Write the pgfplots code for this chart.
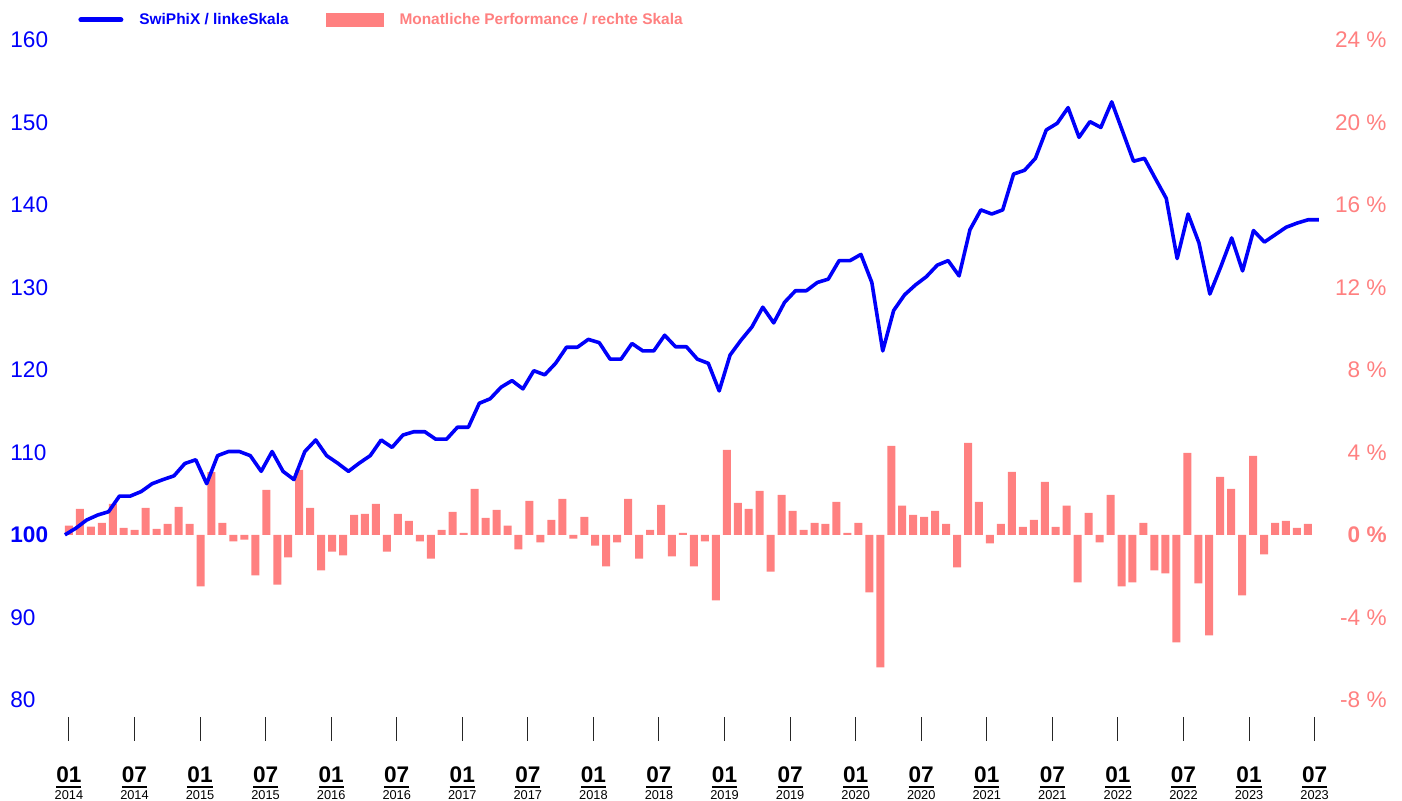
\documentclass[border=0pt]{standalone}
\usepackage{pgfplots}
\usepackage{pgfplotstable}
\pgfplotsset{compat=1.18}
\usepackage{fontspec}
\setmainfont{Liberation Sans}
\definecolor{myblue}{RGB}{0,0,250}
\definecolor{mysalmon}{RGB}{255,128,128}
\newcommand\ul[1]{\setbox0\hbox{#1}\rlap{\vrule width\wd0 height -1.5pt depth 2.5pt}\box0}

\pgfplotstableread{
k v
0 100.0
1 100.8
2 101.8
3 102.4
4 102.8
5 104.7
6 104.7
7 105.25
8 106.2
9 106.7
10 107.15
11 108.65
12 109.1
13 106.2
14 109.6
15 110.1
16 110.1
17 109.6
18 107.7
19 110.1
20 107.7
21 106.7
22 110.1
23 111.5
24 109.6
25 108.7
26 107.7
27 108.7
28 109.6
29 111.5
30 110.6
31 112.1
32 112.5
33 112.5
34 111.6
35 111.6
36 113.05
37 113.05
38 115.95
39 116.5
40 117.9
41 118.7
42 117.7
43 119.9
44 119.4
45 120.8
46 122.75
47 122.75
48 123.7
49 123.3
50 121.3
51 121.3
52 123.2
53 122.3
54 122.3
55 124.2
56 122.8
57 122.8
58 121.3
59 120.8
60 117.45
61 121.8
62 123.6
63 125.2
64 127.6
65 125.7
66 128.2
67 129.6
68 129.6
69 130.6
70 131.0
71 133.25
72 133.25
73 134.0
74 130.6
75 122.3
76 127.2
77 129.1
78 130.3
79 131.3
80 132.7
81 133.25
82 131.4
83 137.0
84 139.4
85 138.9
86 139.4
87 143.75
88 144.2
89 145.65
90 149.1
91 149.9
92 151.8
93 148.2
94 150.1
95 149.4
96 152.5
97 148.9
98 145.3
99 145.65
100 143.2
101 140.8
102 133.5
103 138.9
104 135.4
105 129.2
106 132.5
107 136.0
108 132.0
109 136.9
110 135.5
111 136.4
112 137.3
113 137.8
114 138.2
115 138.2
}\linedata

\pgfplotstableread{
i p
0 0.45
1 1.26
2 0.40
3 0.58
4 1.50
5 0.34
6 0.24
7 1.31
8 0.29
9 0.53
10 1.36
11 0.53
12 -2.50
13 3.04
14 0.58
15 -0.32
16 -0.23
17 -1.97
18 2.18
19 -2.41
20 -1.10
21 3.15
22 1.31
23 -1.73
24 -0.81
25 -1.00
26 0.97
27 1.02
28 1.50
29 -0.81
30 1.02
31 0.68
32 -0.32
33 -1.15
34 0.24
35 1.11
36 0.10
37 2.23
38 0.82
39 1.21
40 0.44
41 -0.71
42 1.65
43 -0.37
44 0.73
45 1.74
46 -0.18
47 0.87
48 -0.52
49 -1.53
50 -0.37
51 1.74
52 -1.15
53 0.24
54 1.45
55 -1.05
56 0.10
57 -1.53
58 -0.32
59 -3.18
60 4.12
61 1.55
62 1.26
63 2.13
64 -1.78
65 1.94
66 1.16
67 0.24
68 0.58
69 0.53
70 1.60
71 0.10
72 0.58
73 -2.79
74 -6.43
75 4.31
76 1.41
77 0.97
78 0.87
79 1.16
80 0.53
81 -1.58
82 4.46
83 1.60
84 -0.42
85 0.53
86 3.05
87 0.39
88 0.73
89 2.57
90 0.39
91 1.41
92 -2.31
93 1.07
94 -0.37
95 1.94
96 -2.50
97 -2.31
98 0.58
99 -1.73
100 -1.87
101 -5.22
102 3.97
103 -2.36
104 -4.88
105 2.81
106 2.23
107 -2.94
108 3.83
109 -0.95
110 0.58
111 0.68
112 0.34
113 0.53
}\bardata

\begin{document}
\begin{tikzpicture}
\path[use as bounding box] (-29pt,-30pt) rectangle (672pt,370.5pt);
% right axis: monthly performance bars
\begin{axis}[
  scale only axis, width=636.5pt, height=350.5pt,
  xmin=-1, xmax=115.5, ymin=-10, ymax=24,
  axis line style={draw=none},
  xtick={0,6,...,114},
  xticklabels={2014,2014,2015,2015,2016,2016,2017,2017,2018,2018,2019,2019,2020,2020,2021,2021,2022,2022,2023,2023},
  xtick pos=bottom, xtick style={draw=none},
  xticklabel style={anchor=base, yshift=-29.5pt, inner sep=0pt, font=\fontsize{6.4}{7}\selectfont, text=black},
  ytick={-8,-4,...,24},
  yticklabels={-8 \%,-4 \%,\textbf{0 \%},4 \%,8 \%,12 \%,16 \%,20 \%,24 \%},
  ytick pos=right, yticklabel pos=right, ytick style={draw=none},
  yticklabel style={anchor=east, xshift=28pt, inner sep=0pt, font=\fontsize{11.3}{13}\selectfont, text=mysalmon},
]
\addplot[ybar, bar width=4pt, fill=mysalmon, draw=none] table[x expr=\thisrow{i}*1.0034, y=p] {\bardata};
\end{axis}
% left axis: index line
\begin{axis}[
  scale only axis, width=636.5pt, height=350.5pt,
  xmin=-1, xmax=115.5, ymin=75, ymax=160,
  axis line style={draw=none},
  xtick={0,6,...,114},
  xticklabels={\ul{01},\ul{07},\ul{01},\ul{07},\ul{01},\ul{07},\ul{01},\ul{07},\ul{01},\ul{07},\ul{01},\ul{07},\ul{01},\ul{07},\ul{01},\ul{07},\ul{01},\ul{07},\ul{01},\ul{07}},
  xtick pos=bottom, tick align=inside, major tick length=12pt,
  xtick style={black!85, line width=0.5pt},
  xticklabel style={anchor=base, yshift=-21pt, inner sep=0pt, font=\fontsize{11.3}{13}\selectfont\bfseries, text=black},
  ytick={80,90,...,160},
  yticklabels={80,90,\textbf{100},110,120,130,140,150,160},
  ytick pos=left, ytick style={draw=none},
  yticklabel style={anchor=west, xshift=-24pt, inner sep=0pt, font=\fontsize{11.3}{13}\selectfont, text=myblue},
  legend columns=2,
  legend style={at={(axis description cs:0.0157,1.0286)}, anchor=west, draw=none, fill=none, inner sep=0pt,
    font=\fontsize{7.72}{9}\selectfont\bfseries,
    /tikz/every odd column/.append style={column sep=6pt},
    /tikz/every even column/.append style={column sep=16.5pt}},
  legend cell align=left,
]
\addlegendimage{legend image code/.code={\draw[line width=2.5pt,line cap=round,myblue] (1.25pt,0pt) -- (21.25pt,0pt);}}
\addlegendentry{\textcolor{myblue}{SwiPhiX / linkeSkala}}
\addlegendimage{legend image code/.code={\fill[mysalmon] (0pt,-3.25pt) rectangle (28.5pt,3.25pt);}}
\addlegendentry{\textcolor{mysalmon}{Monatliche Performance / rechte Skala}}
\addplot[myblue, line width=1.8pt, line join=round, forget plot] table[x expr=\thisrow{k}*0.9979-0.366, y=v] {\linedata};
\end{axis}
\end{tikzpicture}
\end{document}
